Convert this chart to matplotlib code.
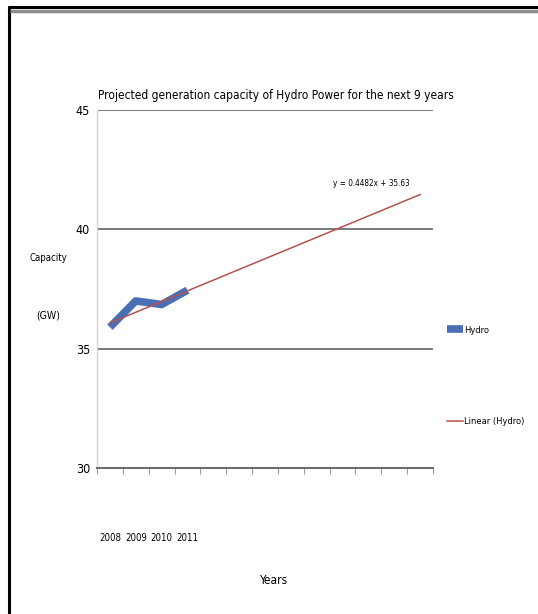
import numpy as np
import matplotlib
matplotlib.use("Agg")
import matplotlib.pyplot as plt
from matplotlib.lines import Line2D

# Installed hydro capacity (GW) per year
years = ["2008", "2009", "2010", "2011"]
hydro = [35.9, 37.0, 36.85, 37.45]

# Linear trendline y = a*x + b, projected forward
trend_slope = 0.4482
trend_intercept = 35.63
forecast_periods = 9

y_ticks = [30, 35, 40, 45]

plt.rcParams['font.family'] = ['DejaVu Sans']
plt.rcParams['font.stretch'] = 'condensed'

W, H = 538, 614
fig = plt.figure(figsize=(W / 100, H / 100), dpi=100)
fig.patch.set_facecolor('white')

def fx(px):
    return px / W

def fy(py):
    return 1 - py / H

ax = fig.add_axes([fx(97), fy(468), fx(433) - fx(97), fy(110) - fy(468)])

n_total = len(hydro) + forecast_periods
x_data = np.arange(1, len(hydro) + 1)
x_trend = np.arange(1, n_total + 1)

hydro_line, = ax.plot(x_data, hydro, color='#4A6FB5', lw=5.5,
                      solid_capstyle='butt', solid_joinstyle='round', zorder=3)
trend_line, = ax.plot(x_trend, trend_slope * x_trend + trend_intercept,
                      color='#B5524F', lw=1.1, zorder=4)

ax.set_xlim(0.5, n_total + 0.5)
ax.set_ylim(y_ticks[0], y_ticks[-1])

# horizontal gridlines
ax.set_yticks(y_ticks)
ax.set_yticklabels([str(v) for v in y_ticks], fontsize=9)
ax.yaxis.grid(True, color='#7a7a7a', lw=1.4)
ax.set_axisbelow(True)
ax.tick_params(axis='y', length=0, pad=5)

# category axis: boundary tick marks, labels for the observed years
ax.set_xticks(x_data)
ax.set_xticklabels(years, fontsize=7)
ax.set_xticks(np.arange(0.5, n_total + 1, 1.0), minor=True)
ax.tick_params(axis='x', which='major', length=0, pad=47)
ax.tick_params(axis='x', which='minor', length=4.5, width=0.8, color='#9a9a9a')

for side in ('top', 'right'):
    ax.spines[side].set_visible(False)
ax.spines['bottom'].set_color('#6e6e6e')
ax.spines['bottom'].set_linewidth(1.5)
ax.spines['left'].set_color('#d4d4d4')
ax.spines['left'].set_linewidth(1.0)

# titles and labels
title = fig.text(fx(276), fy(95), "Projected generation capacity of Hydro Power for the next 9 years",
                 ha='center', va='center', fontsize=8)
eq = fig.text(fx(371), fy(184), "y = 0.4482x + 35.63", ha='center', va='center', fontsize=7)
xlab = fig.text(fx(273), fy(580), "Years", ha='center', va='center', fontsize=8)
ylab1 = fig.text(fx(48), fy(258), "Capacity", ha='center', va='center', fontsize=8)
ylab2 = fig.text(fx(48), fy(316), "(GW)", ha='center', va='center', fontsize=8)

# legend
leg = ax.legend([hydro_line, trend_line], ["Hydro", "Linear (Hydro)"],
                loc='center left', bbox_to_anchor=(fx(447), fy(376)),
                bbox_transform=fig.transFigure, frameon=False, fontsize=7,
                labelspacing=8.5, handlelength=1.6, handletextpad=0.2,
                borderpad=0, borderaxespad=0)

# size each text so it spans its intended pixel width
fig.canvas.draw()
renderer = fig.canvas.get_renderer()

def fit(t, width_px, cap=11):
    w = t.get_window_extent(renderer).width
    t.set_fontsize(min(cap, t.get_fontsize() * width_px / w))

fit(title, 352)
fit(eq, 77)
fit(xlab, 28)
fit(ylab1, 38)
fit(ylab2, 24)
fit(leg.get_texts()[1], 60)
leg.get_texts()[0].set_fontsize(leg.get_texts()[1].get_fontsize())

xl = ax.get_xticklabels()[0]
xs = xl.get_fontsize() * 22 / xl.get_window_extent(renderer).width
ax.tick_params(axis='x', which='major', labelsize=min(xs, 11))

# frame around the chart
fig.add_artist(Line2D([fx(9), fx(9)], [fy(6), 0], color='black', lw=2.2,
                      solid_capstyle='butt', transform=fig.transFigure))
fig.add_artist(Line2D([fx(8), 1], [fy(7), fy(7)], color='black', lw=2.2,
                      solid_capstyle='butt', transform=fig.transFigure))
fig.add_artist(Line2D([fx(10), 1], [fy(11), fy(11)], color='#8c8c8c', lw=2.5,
                      solid_capstyle='butt', transform=fig.transFigure))

fig.savefig("out.png", dpi=100, facecolor='white')
